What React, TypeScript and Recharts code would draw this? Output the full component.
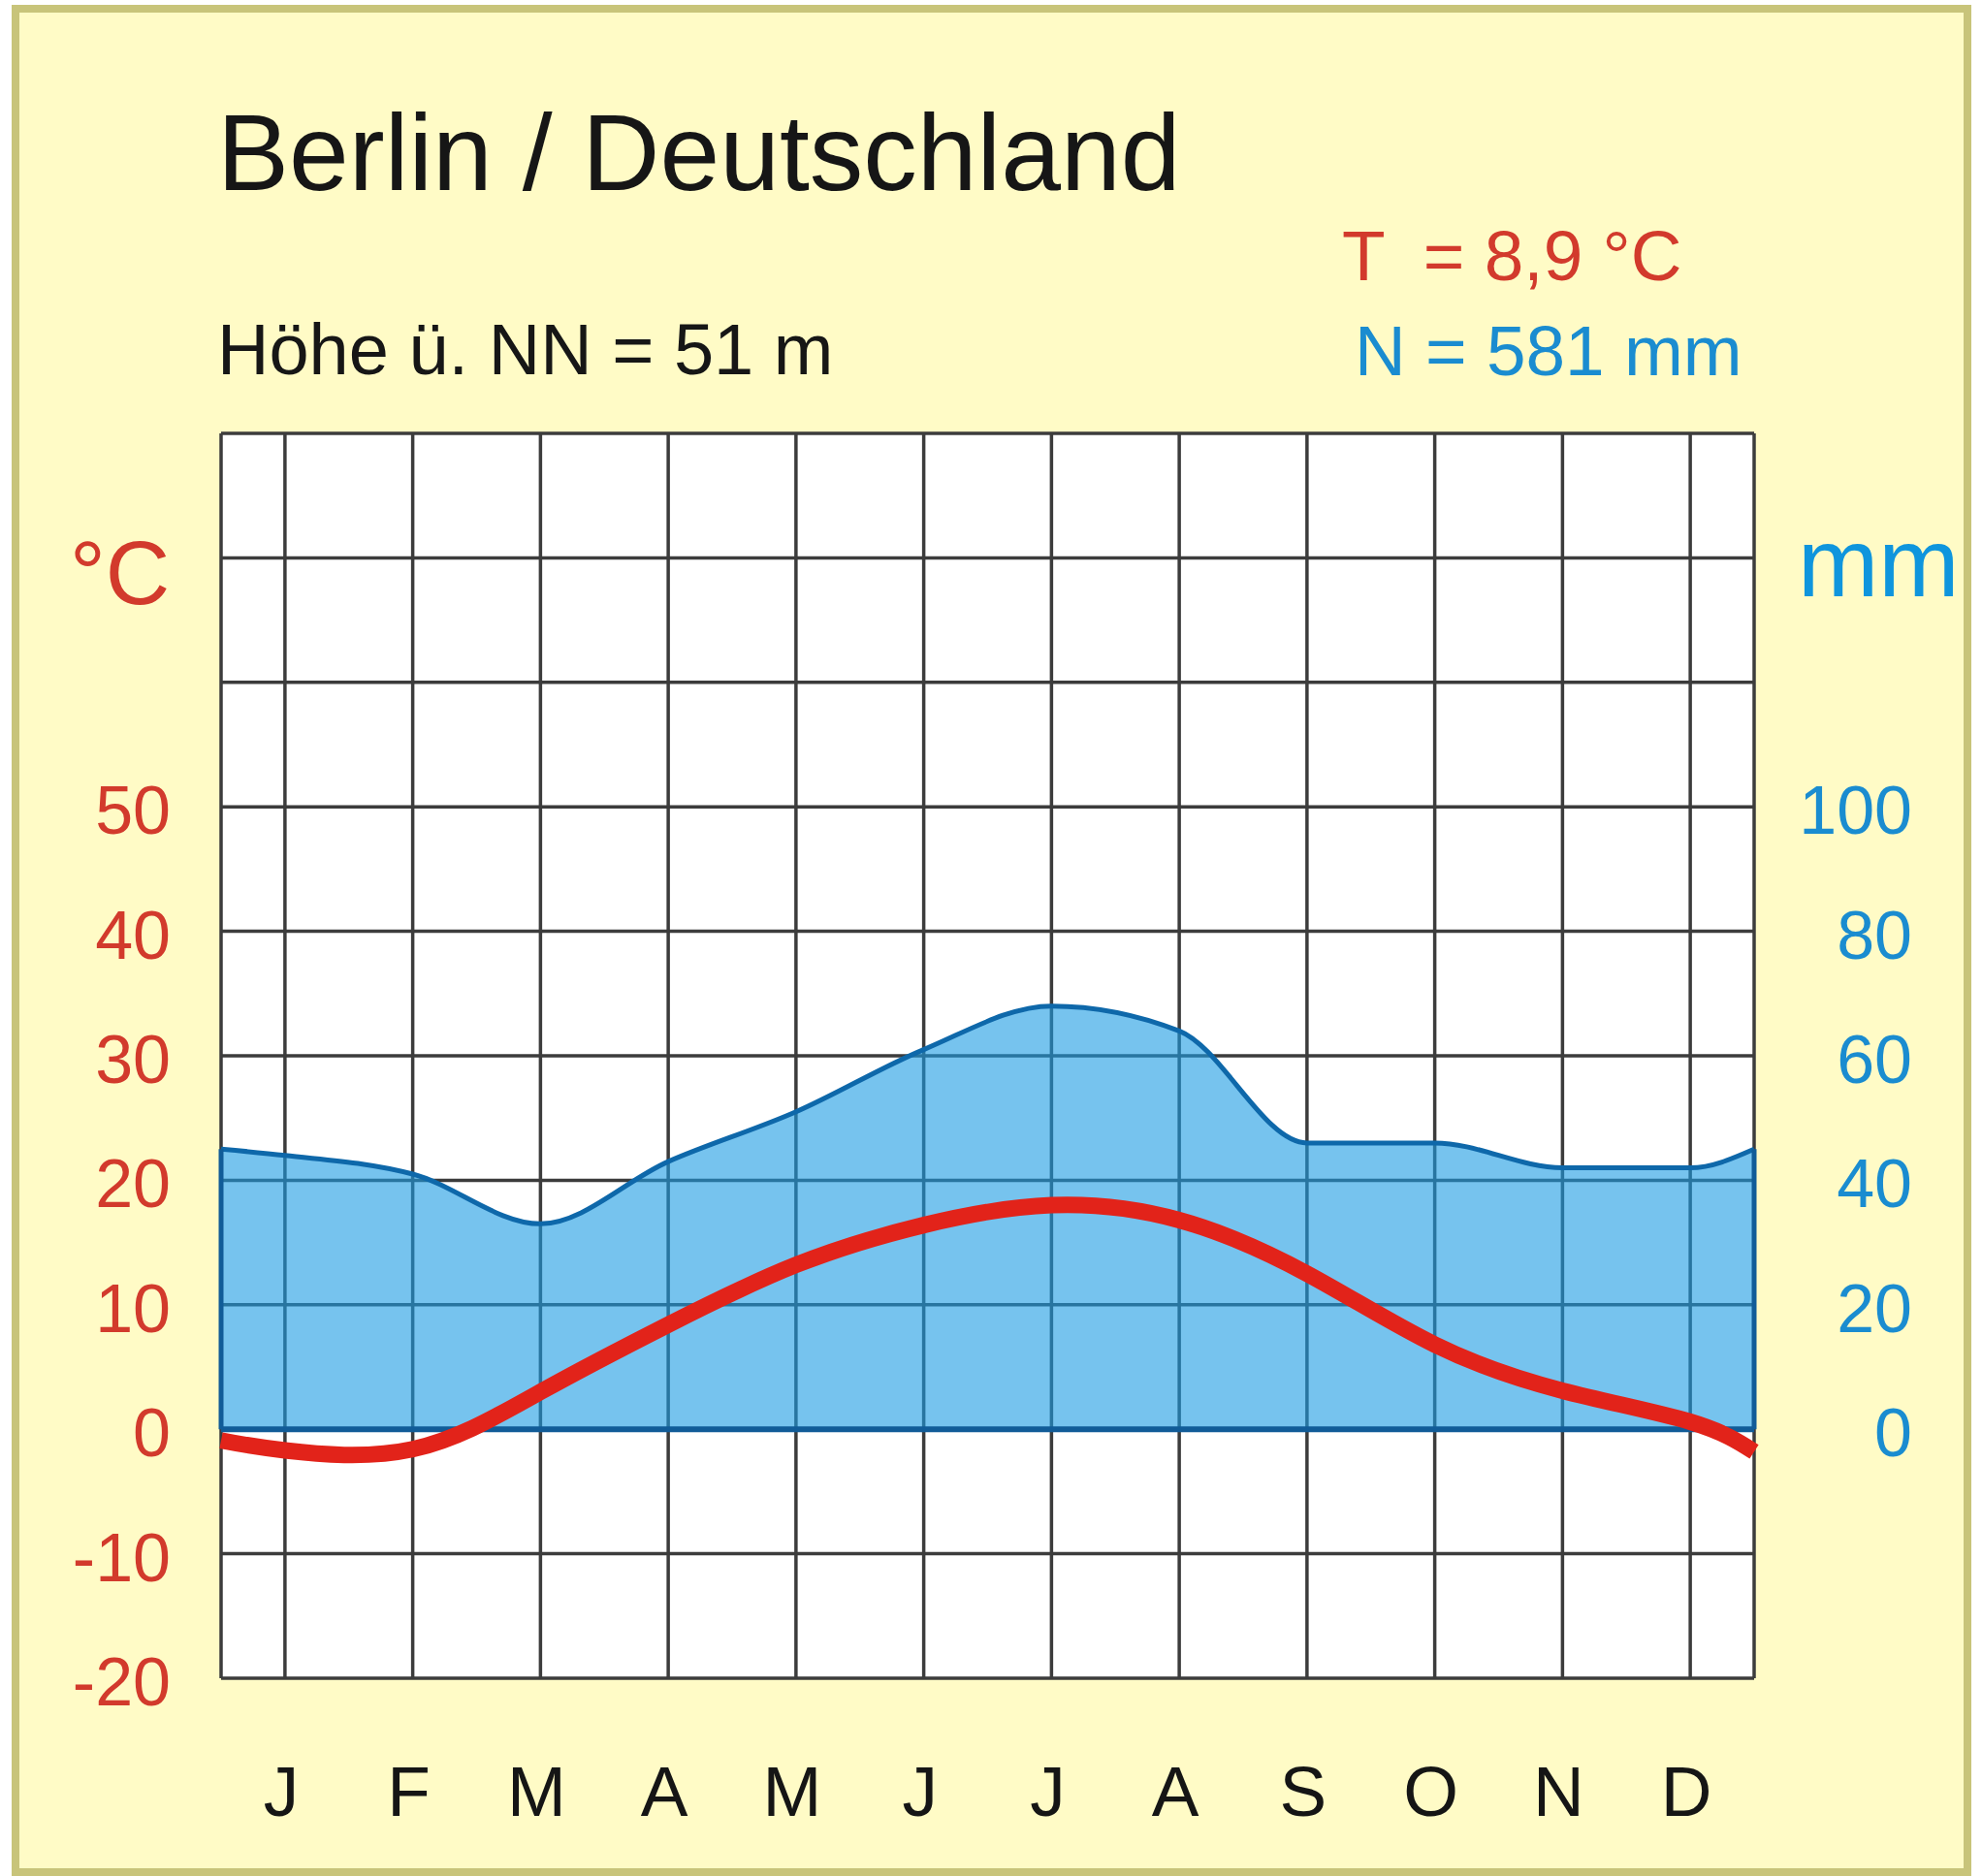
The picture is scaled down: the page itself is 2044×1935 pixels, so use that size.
import React from "react";
import {
  ComposedChart,
  Area,
  Line,
  XAxis,
  YAxis,
  CartesianGrid,
  ReferenceLine,
} from "recharts";

// Klimadiagramm Berlin – Monatswerte
const months = ["J", "F", "M", "A", "M", "J", "J", "A", "S", "O", "N", "D"];
const temperature = [-1.7, -1.6, 3.0, 8.4, 13.2, 16.4, 18.0, 16.8, 12.5, 6.8, 3.1, 0.6];
const precipitation = [44, 41, 33, 43, 51, 61, 68, 64, 46, 46, 42, 42];
// where the curves meet the left / right frame of the plot (1 Jan / 31 Dec)
const tempEnds = [-0.9, -1.8];
const precipEnds = [45, 45];

const tempTicks = [-20, -10, 0, 10, 20, 30, 40, 50, 60, 70, 80];
const tempLabels = [-20, -10, 0, 10, 20, 30, 40, 50];
const precipTicks = [0, 20, 40, 60, 80, 100];

const rows = [
  { m: 0, t: tempEnds[0], p: precipEnds[0] },
  ...months.map((_, i) => ({ m: i + 0.5, t: temperature[i], p: precipitation[i] })),
  { m: 12, t: tempEnds[1], p: precipEnds[1] },
];
const monthTicks = rows.map((r) => r.m);

const FONT = '"Liberation Sans", Arial, Helvetica, sans-serif';
const RED = "#D23A2C";
const BLUE = "#1A8CD0";

const TempTick = (props: any) => {
  const { x, y, payload } = props;
  if (!tempLabels.includes(payload.value)) return <g />;
  return (
    <text x={x - 52} y={y} dy={28} textAnchor="end" fill={RED} fontSize={70} fontFamily={FONT}>
      {payload.value}
    </text>
  );
};

const PrecipTick = (props: any) => {
  const { x, y, payload } = props;
  return (
    <text x={x + 163} y={y} dy={28} textAnchor="end" fill={BLUE} fontSize={70} fontFamily={FONT}>
      {payload.value}
    </text>
  );
};

const MonthTick = (props: any) => {
  const { x, y, payload } = props;
  if (Number.isInteger(payload.value)) return <g />;
  return (
    <text x={x - 4} y={y + 142} textAnchor="middle" fill="#151515" fontSize={73} fontFamily={FONT}>
      {months[Math.floor(payload.value)]}
    </text>
  );
};

export default function App() {
  return (
    <div style={{ position: "absolute", left: 0, top: 0, width: 2044, height: 1935, background: "#fff" }}>
      {/* Rahmen */}
      <div
        style={{
          position: "absolute",
          left: 12,
          top: 5,
          width: 2021,
          height: 1930,
          boxSizing: "border-box",
          border: "8px solid #C8C47A",
          background: "#FFFBC6",
        }}
      />
      <div style={{ position: "absolute", left: 0, top: 0 }}>
        <ComposedChart
          width={2044}
          height={1935}
          data={rows}
          margin={{ top: 447, right: 234, bottom: 203, left: 227 }}
        >
          <CartesianGrid stroke="#3c3c3c" strokeWidth={3.5} fill="#ffffff" />
          <XAxis
            type="number"
            dataKey="m"
            domain={[0, 12]}
            ticks={monthTicks}
            interval={0}
            height={1}
            axisLine={false}
            tickLine={false}
            tickSize={0}
            tickMargin={0}
            tick={MonthTick}
          />
          <YAxis
            domain={[-20, 80]}
            ticks={tempTicks}
            interval={0}
            width={1}
            axisLine={false}
            tickLine={false}
            tickSize={0}
            tickMargin={0}
            tick={TempTick}
          />
          <YAxis
            yAxisId="mm"
            orientation="right"
            domain={[-40, 160]}
            ticks={precipTicks}
            interval={0}
            width={1}
            axisLine={false}
            tickLine={false}
            tickSize={0}
            tickMargin={0}
            tick={PrecipTick}
          />
          <Area
            yAxisId="mm"
            dataKey="p"
            type="monotone"
            baseValue={0}
            stroke="#0E68AA"
            strokeWidth={5}
            fill="#1B9BE3"
            fillOpacity={0.6}
            isAnimationActive={false}
          />
          <ReferenceLine yAxisId="mm" y={0} stroke="#115C98" strokeWidth={6} />
          <ReferenceLine
            yAxisId="mm"
            segment={[{ x: rows[0].m, y: 0 }, { x: rows[0].m, y: precipEnds[0] }]}
            stroke="#115C98"
            strokeWidth={5}
          />
          <ReferenceLine
            yAxisId="mm"
            segment={[
              { x: rows[rows.length - 1].m, y: 0 },
              { x: rows[rows.length - 1].m, y: precipEnds[1] },
            ]}
            stroke="#115C98"
            strokeWidth={5}
          />
          <Line
            dataKey="t"
            type="natural"
            stroke="#E2231A"
            strokeWidth={17}
            dot={false}
            activeDot={false}
            isAnimationActive={false}
          />
        </ComposedChart>
      </div>
      <svg
        width={2044}
        height={1935}
        style={{ position: "absolute", left: 0, top: 0, pointerEvents: "none" }}
      >
        <text x={224} y={196} fontSize={111} fill="#161616" fontFamily={FONT}>
          Berlin / Deutschland
        </text>
        <text x={224} y={386} fontSize={74} fill="#161616" fontFamily={FONT}>
          Höhe ü. NN = 51 m
        </text>
        <text x={1384} y={289} fontSize={73} fill={RED} fontFamily={FONT} style={{ whiteSpace: "pre" }}>
          {"T  = 8,9 °C"}
        </text>
        <text x={1397} y={387} fontSize={73} fill={BLUE} fontFamily={FONT}>
          N = 581 mm
        </text>
        <text x={72} y={623} fontSize={92} fill={RED} fontFamily={FONT}>
          °C
        </text>
        <text x={1854} y={615} fontSize={100} fill="#0F95DD" fontFamily={FONT}>
          mm
        </text>
      </svg>
    </div>
  );
}
